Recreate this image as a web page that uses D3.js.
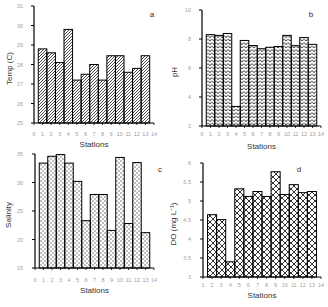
<!DOCTYPE html>
<html>
<head>
<meta charset="utf-8">
<script src="https://cdn.jsdelivr.net/npm/d3@7"></script>
<style>
  html, body { margin: 0; padding: 0; background: #fff; }
  svg { display: block; }
</style>
</head>
<body>
<div id="chart"></div>
<script>
// Four station panels: temperature, pH, salinity, dissolved oxygen.
const stations = [1, 2, 3, 4, 5, 6, 7, 8, 9, 10, 11, 12, 13];
const doStations = [2, 3, 4, 5, 6, 7, 8, 9, 10, 11, 12, 13];

const temperature = [28.8, 28.6, 28.1, 29.8, 27.2, 27.5, 28.0, 27.2, 28.45, 28.45, 27.6, 27.8, 28.45];
const ph = [8.3, 8.25, 8.38, 3.35, 7.9, 7.55, 7.33, 7.43, 7.48, 8.25, 7.54, 8.1, 7.63];
const salinity = [33.4, 34.6, 34.9, 33.4, 30.2, 23.3, 27.9, 27.9, 21.6, 34.4, 22.8, 33.5, 21.2];
const dissolvedOxygen = [4.64, 4.51, 3.4, 5.32, 5.12, 5.25, 5.12, 5.77, 5.17, 5.43, 5.22, 5.25];

const tempTicks = [25, 26, 27, 28, 29, 30, 31];
const phTicks = [2, 4, 6, 8, 10];
const salinityTicks = [15, 20, 25, 30, 35];
const doTicks = [3, 3.5, 4, 4.5, 5, 5.5, 6];
const stationTicks = d3.range(0, 15);
const doStationTicks = d3.range(1, 15);

const WIDTH = 328, HEIGHT = 307;
const TICK_COLOR = '#a0a0a0';
const FONT = '"Liberation Sans", Arial, sans-serif';

const svg = d3.select('#chart').append('svg').attr('width', WIDTH).attr('height', HEIGHT);
const defs = svg.append('defs');

// ── fill patterns ───────────────────────────────────────────────────────────
const diag = defs.append('pattern').attr('id', 'p-diag').attr('patternUnits', 'userSpaceOnUse')
  .attr('width', 3).attr('height', 3);
diag.append('path').attr('d', 'M-1,1 L1,-1 M0,3 L3,0 M2,4 L4,2')
  .attr('stroke', '#000').attr('stroke-width', 0.7);

// zigzag rows ("vvv")
const zig = defs.append('pattern').attr('id', 'p-zig').attr('patternUnits', 'userSpaceOnUse')
  .attr('width', 4).attr('height', 3.5);
zig.append('path').attr('d', 'M0,0.4 L2,2.6 L4,0.4')
  .attr('fill', 'none').attr('stroke', '#000').attr('stroke-width', 0.8);

const dots = defs.append('pattern').attr('id', 'p-dots').attr('patternUnits', 'userSpaceOnUse')
  .attr('width', 4).attr('height', 4);
dots.append('rect').attr('x', 0.5).attr('y', 0.5).attr('width', 1).attr('height', 1).attr('fill', '#000');
dots.append('rect').attr('x', 2.5).attr('y', 2.5).attr('width', 1).attr('height', 1).attr('fill', '#000');

const cross = defs.append('pattern').attr('id', 'p-cross').attr('patternUnits', 'userSpaceOnUse')
  .attr('width', 6).attr('height', 6);
cross.append('path').attr('d', 'M0,0 L6,6 M6,0 L0,6')
  .attr('stroke', '#000').attr('stroke-width', 0.8);

// ── panels ──────────────────────────────────────────────────────────────────
const panels = [
  { tag: 'a', title: 'Temp (C)', x: stations, y: temperature, yTicks: tempTicks, xTicks: stationTicks,
    xDomain: [0, 14], yDomain: [25, 31], fill: 'url(#p-diag)', fmt: d3.format('d'),
    left: 34, right: 154, top: 6, bottom: 123, tickY: 136, stY: 147, labelX: 23, titleX: 12, tagX: 152, tagY: 17 },
  { tag: 'b', title: 'pH', x: stations, y: ph, yTicks: phTicks, xTicks: stationTicks,
    xDomain: [0, 14], yDomain: [2, 10], fill: 'url(#p-zig)', fmt: d3.format('d'),
    left: 202, right: 321, top: 10, bottom: 126, tickY: 136, stY: 149, labelX: 191, titleX: 177, tagX: 311, tagY: 17 },
  { tag: 'c', title: 'Salinity', x: stations, y: salinity, yTicks: salinityTicks, xTicks: stationTicks,
    xDomain: [0, 14], yDomain: [15, 35], fill: 'url(#p-dots)', fmt: d3.format('d'),
    left: 35, right: 154, top: 154, bottom: 268, tickY: 282, stY: 293, labelX: 23, titleX: 11, tagX: 160, tagY: 172 },
  { tag: 'd', title: 'DO (mg L\u207B\u00B9)', x: doStations, y: dissolvedOxygen, yTicks: doTicks, xTicks: doStationTicks,
    xDomain: [1, 14], yDomain: [3, 6], fill: 'url(#p-cross)', fmt: d => d3.format('~g')(d),
    left: 203, right: 321, top: 163, bottom: 277, tickY: 287, stY: 298, labelX: 191, titleX: 176, tagX: 299, tagY: 172 },
];

panels.forEach(drawPanel);

function drawPanel(p) {
  const g = svg.append('g');
  const xScale = d3.scaleLinear().domain(p.xDomain).range([p.left, p.right]);
  const yScale = d3.scaleLinear().domain(p.yDomain).range([p.bottom, p.top]);
  const barWidth = xScale(1) - xScale(0);

  const rows = p.x.map((s, i) => ({ station: s, value: p.y[i] }));
  g.selectAll('rect.bar').data(rows).join('rect')
    .attr('class', 'bar')
    .attr('x', d => xScale(d.station) - barWidth / 2)
    .attr('y', d => yScale(d.value))
    .attr('width', barWidth)
    .attr('height', d => yScale(p.yDomain[0]) - yScale(d.value))
    .attr('fill', p.fill).attr('stroke', '#000').attr('stroke-width', 1);

  // y axis: line, outward ticks, grey labels set further out
  g.append('line').attr('x1', p.left).attr('x2', p.left).attr('y1', p.top).attr('y2', p.bottom)
    .attr('stroke', '#000').attr('stroke-width', 1.2);
  g.selectAll('line.ytick').data(p.yTicks).join('line')
    .attr('class', 'ytick')
    .attr('x1', p.left - 3).attr('x2', p.left)
    .attr('y1', d => yScale(d)).attr('y2', d => yScale(d))
    .attr('stroke', '#000').attr('stroke-width', 1);
  g.selectAll('text.ylab').data(p.yTicks).join('text')
    .attr('class', 'ylab')
    .attr('x', p.labelX).attr('y', d => yScale(d) + 2)
    .attr('text-anchor', 'end').attr('font-family', FONT).attr('font-size', 5.5)
    .attr('fill', TICK_COLOR).text(p.fmt);

  // x axis: line, short downward ticks, labels
  g.append('line').attr('x1', xScale(p.xDomain[0])).attr('x2', xScale(p.xDomain[1]))
    .attr('y1', p.bottom).attr('y2', p.bottom)
    .attr('stroke', '#000').attr('stroke-width', 1.2);
  g.selectAll('line.xtick').data(p.xTicks).join('line')
    .attr('class', 'xtick')
    .attr('x1', d => xScale(d)).attr('x2', d => xScale(d))
    .attr('y1', p.bottom).attr('y2', p.bottom + 2)
    .attr('stroke', '#000').attr('stroke-width', 0.8);
  g.selectAll('text.xlab').data(p.xTicks).join('text')
    .attr('class', 'xlab')
    .attr('x', d => xScale(d)).attr('y', p.tickY)
    .attr('text-anchor', 'middle').attr('font-family', FONT).attr('font-size', 5.5)
    .attr('fill', TICK_COLOR).text(d => d);

  g.append('text')
    .attr('x', (xScale(p.xDomain[0]) + xScale(p.xDomain[1])) / 2).attr('y', p.stY)
    .attr('text-anchor', 'middle').attr('font-family', FONT).attr('font-size', 8)
    .attr('fill', '#333').text('Stations');

  g.append('text')
    .attr('transform', `translate(${p.titleX},${(p.top + p.bottom) / 2 + 4}) rotate(-90)`)
    .attr('text-anchor', 'middle').attr('font-family', FONT).attr('font-size', 8)
    .attr('fill', '#333').text(p.title);

  g.append('text').attr('x', p.tagX).attr('y', p.tagY)
    .attr('text-anchor', 'middle').attr('font-family', FONT).attr('font-size', 8)
    .attr('fill', '#3a2a10').text(p.tag);
}
</script>
</body>
</html>
